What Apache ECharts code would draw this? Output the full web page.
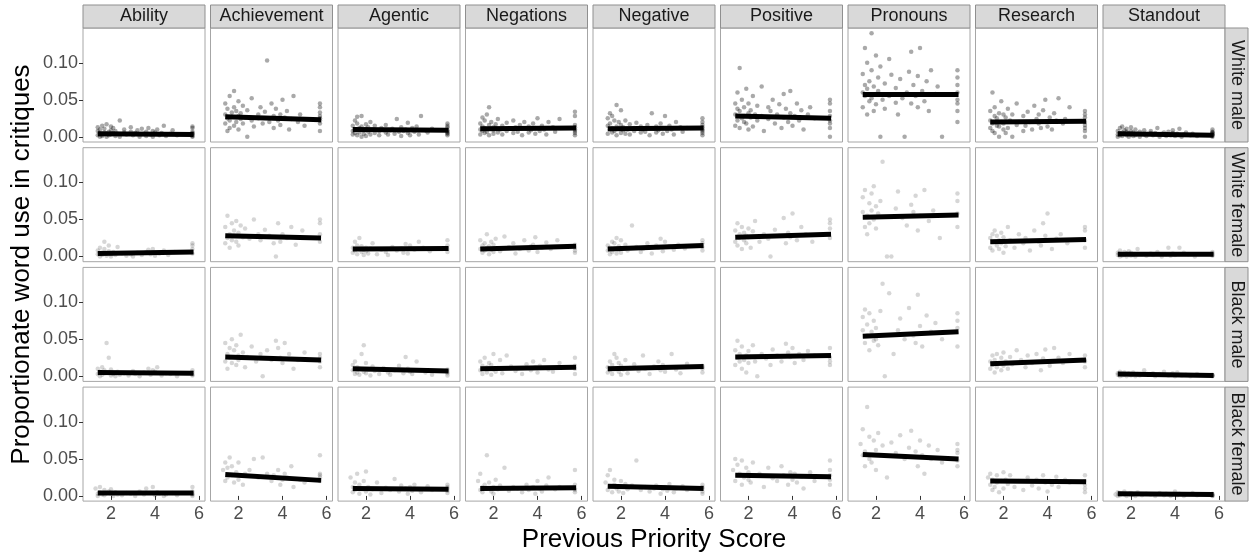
<!DOCTYPE html>
<html>
<head>
<meta charset="utf-8">
<script src="https://cdn.jsdelivr.net/npm/echarts@6/dist/echarts.min.js"></script>
<style>
  html, body { margin: 0; padding: 0; background: #fff; }
  #main { width: 1252px; height: 558px; }
</style>
</head>
<body>
<div id="main"></div>
<script>
var categories = ['Ability', 'Achievement', 'Agentic', 'Negations', 'Negative', 'Positive', 'Pronouns', 'Research', 'Standout'];
var groups = ['White male', 'White female', 'Black male', 'Black female'];
var xTicks = [2, 4, 6];
var yTicks = [0, 0.05, 0.1];
var fitX = [1.4, 5.75];

// word use values below are in thousandths (divided by 1000 when plotted)

// White male
var wmScore = [1.4,1.4,1.4,1.5,1.5,1.5,1.6,1.6,1.6,1.7, 1.7,1.8,1.8,1.8,1.9,1.9,2.0,2.0,2.0,2.1,
  2.1,2.2,2.2,2.3,2.4,2.4,2.6,2.6,2.7,2.9, 2.9,3.0,3.1,3.2,3.3,3.4,3.5,3.6,3.6,3.7,
  3.8,3.9,3.9,4.0,4.1,4.2,4.3,4.4,4.5,4.7, 4.8,5.0,5.7,5.7,5.7,5.7,5.7,5.7,5.7,5.7];
var wmAbility = [2,8,13,0,5,10,3,15,1,6, 11,4,0,17,7,2,9,14,3,5, 12,1,8,4,22,0,6,10,3,7,
  13,2,5,9,0,11,4,7,1,12, 3,8,0,6,10,2,5,15,1,4, 9,2,0,3,7,12,1,5,14,4];
var wmAchievement = [30,18,45,25,8,38,22,55,12,33, 27,40,15,62,20,35,28,10,48,24, 32,18,42,26,0,36,22,52,14,30,
  25,40,18,34,103,20,45,28,12,38, 22,30,16,50,26,35,10,24,55,20, 30,15,25,45,18,33,8,22,40,28];
var wmAgentic = [8,15,3,22,10,5,18,27,2,12, 6,14,0,28,9,4,11,17,1,13, 7,20,3,10,5,15,8,2,12,6,
  16,3,9,11,4,24,7,13,1,8, 10,5,19,2,12,7,14,3,28,9, 6,11,4,15,9,2,13,7,18,5];
var wmNegations = [10,18,3,26,8,14,5,22,12,30, 7,40,16,2,11,20,9,13,4,17, 12,6,24,10,3,15,8,19,11,5,
  22,13,7,16,2,20,11,6,14,9, 18,4,12,25,8,15,10,3,20,13, 7,24,2,10,16,34,8,13,5,28];
var wmNegative = [15,25,4,32,10,18,6,28,12,22, 8,43,14,2,20,11,5,16,36,9, 13,4,22,10,3,17,8,12,19,6,
  14,10,7,16,2,32,11,6,14,9, 18,4,12,28,8,15,10,3,20,13, 7,12,2,10,16,25,8,13,5,20];
var wmPositive = [30,45,15,60,22,38,93,12,35,25, 50,20,40,28,65,18,32,10,45,26, 36,55,14,30,42,22,68,28,8,40,
  24,35,50,18,30,44,12,58,26,38, 20,32,62,15,28,45,22,36,10,30, 40,25,18,35,50,12,28,45,22,0];
var wmPronouns = [60,85,40,120,55,70,30,100,65,48, 75,140,52,90,35,68,110,58,44,80, 62,0,95,50,72,38,105,55,84,46,
  66,30,78,52,0,60,88,45,115,70, 55,82,40,120,62,48,75,35,90,58, 68,0,45,80,60,35,70,90,50,20];
var wmResearch = [22,12,35,8,60,18,28,5,40,15, 25,0,32,14,48,20,10,30,18,5, 26,38,12,22,0,30,16,45,20,8,
  28,15,34,20,10,42,24,18,30,12, 36,20,50,14,26,10,32,22,52,18, 24,40,12,30,20,8,35,0,26,16];
var wmStandout = [3,8,0,12,5,2,14,6,1,9, 4,11,2,7,0,5,13,3,8,1, 6,2,10,4,0,7,3,9,1,5,
  8,2,5,12,0,4,6,1,3,7, 2,5,9,1,4,11,0,3,6,2, 4,1,7,3,10,2,5,0,3,6];
var wmFit = [[4,3],[27,23],[10,9],[11,12],[11,12],[28,25],[57,57],[20,21],[4,2]];

// White female
var wfScore = [1.4,1.4,1.5,1.5,1.6,1.6,1.7,1.7,1.8,1.8, 1.9,1.9,2.0,2.0,2.1,2.2,2.3,2.5,2.7,2.9,
  3.0,3.2,3.4,3.6,3.7,3.8,3.9,4.0,4.2,4.4, 4.6,4.9,5.7,5.7,5.7,5.7];
var wfAbility = [3,8,0,12,5,2,10,20,4,1, 7,15,3,0,6,2,13,4,1,3, 0,5,2,6,9,3,10,1,4,8, 2,6,10,18,15,4];
var wfAchievement = [40,18,55,25,30,12,45,22,35,28, 48,20,32,15,42,26,38,24,50,30, 22,36,28,18,0,45,20,30,25,40, 16,35,30,50,45,20];
var wfAgentic = [12,5,20,8,15,3,10,25,6,14, 9,2,12,7,4,11,18,3,9,6, 2,13,8,11,5,17,4,15,9,20, 12,7,10,22,15,6];
var wfNegations = [10,22,5,15,8,18,12,30,3,14, 20,9,16,6,24,11,7,27,13,18, 4,10,22,8,14,16,26,6,12,19, 10,22,16,12,5,8];
var wfNegative = [8,15,3,12,20,6,18,10,25,4, 14,9,22,5,11,16,8,42,13,6, 10,18,4,15,12,24,7,20,14,9, 16,11,18,22,8,13];
var wfPositive = [35,20,45,15,30,25,40,10,22,32, 28,18,38,26,12,34,48,20,30,24, 0,36,28,52,18,32,26,58,22,40, 30,20,45,38,50,25];
var wfPronouns = [60,80,40,90,55,30,72,45,85,62, 50,95,68,38,58,75,128,0,0,65, 88,52,42,70,60,82,35,55,90,48, 62,25,75,40,85,58];
var wfResearch = [25,12,30,8,20,35,15,28,10,22, 18,32,5,26,14,40,22,12,30,18, 25,8,35,20,15,45,28,58,10,24, 30,18,40,22,12,35];
var wfStandout = [2,5,0,8,3,1,6,2,4,0, 3,7,1,5,2,0,10,3,1,4, 2,6,0,3,12,1,4,2,12,5, 3,0,6,2,4,1];
var wfFit = [[4,6],[28,25],[10,11],[10,14],[10,15],[26,30],[53,56],[20,23],[3,3]];

// Black male
var bmScore = [1.4,1.4,1.5,1.5,1.6,1.6,1.7,1.7,1.8,1.9, 1.9,2.0,2.0,2.1,2.2,2.3,2.4,2.6,2.8,3.0,
  3.1,3.3,3.5,3.7,3.8,3.9,4.0,4.1,4.3,4.5, 4.7,5.0,5.7,5.7,5.7,5.7];
var bmAbility = [3,10,0,6,12,2,8,4,45,25, 5,1,9,3,0,6,2,4,1,7, 3,0,5,10,2,8,6,12,1,4, 3,0,2,8,5,1];
var bmAchievement = [20,45,30,10,38,25,50,18,35,15, 42,28,22,56,32,12,26,40,20,30, 0,35,22,48,38,25,18,45,30,10, 22,32,20,30,12,25];
var bmAgentic = [8,15,3,20,5,12,2,10,30,42, 6,18,4,9,1,13,7,3,11,5, 2,8,14,4,26,10,6,3,20,8, 5,2,9,4,1,6];
var bmNegations = [8,20,3,14,10,25,5,12,18,2, 15,9,30,6,11,22,4,28,13,7, 10,3,16,8,20,12,5,14,22,9, 6,18,10,14,25,3];
var bmNegative = [12,5,20,8,3,15,30,10,25,6, 18,2,14,9,22,4,11,16,7,28, 10,3,13,20,8,15,6,12,30,9, 4,17,10,14,5,12];
var bmPositive = [35,15,48,25,20,30,10,40,22,28, 5,34,18,26,42,20,0,30,24,15, 36,28,20,44,32,26,38,18,30,22, 34,28,15,38,25,20];
var bmPronouns = [62,80,45,90,55,70,35,85,60,48, 75,50,65,42,88,125,0,112,30,62, 78,50,92,55,45,110,68,40,82,60, 72,50,65,75,85,40];
var bmResearch = [20,10,28,15,22,5,30,12,18,25, 8,14,32,20,10,26,16,35,22,12, 28,18,30,8,24,36,20,14,38,25, 18,30,22,12,20,28];
var bmStandout = [2,4,0,6,3,1,5,2,0,3, 4,1,2,5,0,3,1,8,2,4, 0,3,6,1,2,4,0,5,1,2, 0,3,1,2,0,1];
var bmFit = [[5,4],[26,22],[10,7],[10,12],[10,13],[26,28],[54,60],[17,22],[3,1]];

// Black female
var bfScore = [1.3,1.4,1.4,1.5,1.5,1.6,1.7,1.7,1.8,1.9, 2.0,2.0,2.1,2.2,2.3,2.5,2.7,2.9,3.1,3.3,
  3.5,3.6,3.8,3.9,4.0,4.1,4.2,4.4,4.5,4.8, 5.0,5.7,5.7,5.7,5.7,5.7];
var bfAbility = [10,3,0,12,5,2,8,1,4,6, 3,9,0,5,2,1,4,3,0,6, 2,10,4,12,1,5,3,0,2,4, 1,3,12,6,0,2];
var bfAchievement = [35,20,45,38,25,52,28,40,18,32, 45,22,28,15,30,35,50,25,52,30, 20,28,35,15,22,30,25,40,12,22, 18,55,20,30,25,28];
var bfAgentic = [25,12,5,18,8,30,3,15,10,20, 33,6,12,2,9,18,4,11,8,23, 6,14,10,3,12,7,15,9,5,13, 8,10,4,15,7,12];
var bfNegations = [20,8,30,12,5,15,55,10,18,6, 12,3,22,9,14,38,7,12,10,5, 15,8,12,3,20,10,6,14,25,9, 12,10,35,15,8,5];
var bfNegative = [18,8,28,12,35,5,15,22,10,6, 20,12,4,16,9,14,48,8,12,6, 10,14,3,9,12,7,16,5,10,13, 8,6,15,10,12,3];
var bfPositive = [35,50,20,42,28,30,15,48,25,38, 22,32,18,45,28,30,12,38,24,20, 40,28,15,32,22,30,18,26,10,32, 20,35,28,48,15,22];
var bfPronouns = [70,55,90,60,40,120,50,80,45,75, 62,35,85,55,68,25,72,58,82,50, 65,88,60,40,75,55,30,68,50,62, 45,58,70,48,40,62];
var bfResearch = [25,15,30,8,22,12,28,18,5,20, 32,10,22,16,28,12,20,8,25,14, 22,10,28,18,6,20,15,26,12,22, 18,10,28,15,20,5];
var bfStandout = [2,5,0,4,1,3,6,2,0,3, 1,4,2,0,5,1,3,2,0,4, 1,3,0,2,6,1,3,0,2,4, 1,3,0,2,1,0];
var bfFit = [[4,4],[29,21],[10,9],[10,11],[13,10],[28,26],[56,50],[20,19],[3,2]];

var rows = [
  { score: wmScore, fit: wmFit, alpha: 0.42,
    ys: [wmAbility, wmAchievement, wmAgentic, wmNegations, wmNegative, wmPositive, wmPronouns, wmResearch, wmStandout] },
  { score: wfScore, fit: wfFit, alpha: 0.2,
    ys: [wfAbility, wfAchievement, wfAgentic, wfNegations, wfNegative, wfPositive, wfPronouns, wfResearch, wfStandout] },
  { score: bmScore, fit: bmFit, alpha: 0.2,
    ys: [bmAbility, bmAchievement, bmAgentic, bmNegations, bmNegative, bmPositive, bmPronouns, bmResearch, bmStandout] },
  { score: bfScore, fit: bfFit, alpha: 0.2,
    ys: [bfAbility, bfAchievement, bfAgentic, bfNegations, bfNegative, bfPositive, bfPronouns, bfResearch, bfStandout] }
];

// panel layout (px)
var L = 83, W = 122, GX = 5.5;
var T = 28, H = 114, GY = 5.7;
var stripH = 23;

var grid = [], xAxis = [], yAxis = [], series = [], graphic = [];
var labelColor = '#4D4D4D';

rows.forEach(function (row, r) {
  categories.forEach(function (cat, c) {
    var idx = r * categories.length + c;
    var left = L + c * (W + GX);
    var top = T + r * (H + GY);
    grid.push({
      left: left, top: top, width: W, height: H,
      show: true, borderColor: '#A6A6A6', borderWidth: 1, backgroundColor: '#fff'
    });
    var bottomRow = r === rows.length - 1;
    var firstCol = c === 0;
    xAxis.push({
      gridIndex: idx, type: 'value', min: 0.73, max: 6.27,
      axisLine: { show: false },
      splitLine: { show: false },
      axisTick: { show: bottomRow, customValues: xTicks, length: 4, lineStyle: { color: '#333' } },
      axisLabel: { show: bottomRow, customValues: xTicks, margin: 4, fontSize: 18,
        color: labelColor, fontFamily: 'Liberation Sans' }
    });
    yAxis.push({
      gridIndex: idx, type: 'value', min: -0.007, max: 0.147,
      axisLine: { show: false },
      splitLine: { show: false },
      axisTick: { show: firstCol, customValues: yTicks, length: 4, lineStyle: { color: '#333' } },
      axisLabel: { show: firstCol, customValues: yTicks, margin: 5, fontSize: 18,
        color: labelColor, fontFamily: 'Liberation Sans',
        formatter: function (v) { return v.toFixed(2); } }
    });
    var pts = [];
    row.score.forEach(function (s, i) {
      if (row.ys[c][i] !== undefined) pts.push([s, row.ys[c][i] / 1000]);
    });
    series.push({
      type: 'scatter', xAxisIndex: idx, yAxisIndex: idx,
      data: pts, symbolSize: 4.5, silent: true,
      itemStyle: { color: 'rgba(0,0,0,' + row.alpha + ')' }
    });
    series.push({
      type: 'line', xAxisIndex: idx, yAxisIndex: idx,
      data: [[fitX[0], row.fit[c][0] / 1000], [fitX[1], row.fit[c][1] / 1000]],
      showSymbol: false, silent: true,
      lineStyle: { color: '#000', width: 5 }
    });
  });
});

// column strips
categories.forEach(function (cat, c) {
  var left = L + c * (W + GX);
  graphic.push({
    type: 'rect', shape: { x: left, y: T - stripH, width: W, height: stripH },
    style: { fill: '#D9D9D9', stroke: '#8F8F8F', lineWidth: 1 }
  });
  graphic.push({
    type: 'text', x: left + W / 2, y: T - stripH / 2,
    style: { text: cat, fill: '#1A1A1A', fontSize: 18, fontFamily: 'Liberation Sans',
      align: 'center', verticalAlign: 'middle' }
  });
});

// row strips
var stripX = L + categories.length * W + (categories.length - 1) * GX;
groups.forEach(function (g, r) {
  var top = T + r * (H + GY);
  graphic.push({
    type: 'rect', shape: { x: stripX, y: top, width: stripH, height: H },
    style: { fill: '#D9D9D9', stroke: '#8F8F8F', lineWidth: 1 }
  });
  graphic.push({
    type: 'text', x: stripX + stripH / 2, y: top + H / 2, rotation: -Math.PI / 2,
    style: { text: g, fill: '#1A1A1A', fontSize: 18, fontFamily: 'Liberation Sans',
      align: 'center', verticalAlign: 'middle' }
  });
});

// axis titles
graphic.push({
  type: 'text', x: 22, y: T + (4 * H + 3 * GY) / 2, rotation: Math.PI / 2,
  style: { text: 'Proportionate word use in critiques', fill: '#000', fontSize: 26,
    fontFamily: 'Liberation Sans', align: 'center', verticalAlign: 'middle' }
});
graphic.push({
  type: 'text', x: L + (stripX - L) / 2, y: 540,
  style: { text: 'Previous Priority Score', fill: '#000', fontSize: 26,
    fontFamily: 'Liberation Sans', align: 'center', verticalAlign: 'middle' }
});

var myChart = echarts.init(document.getElementById('main'), null, { renderer: 'canvas' });
myChart.setOption({
  animation: false,
  backgroundColor: '#fff',
  grid: grid,
  xAxis: xAxis,
  yAxis: yAxis,
  series: series,
  graphic: graphic
});
</script>
</body>
</html>
